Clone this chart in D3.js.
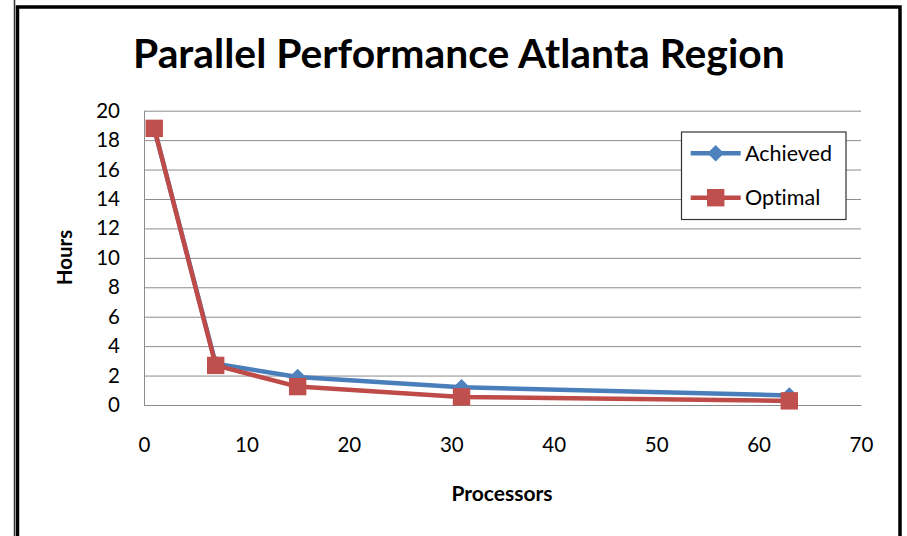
<!DOCTYPE html>
<html>
<head>
<meta charset="utf-8">
<script src="https://cdn.jsdelivr.net/npm/d3@7"></script>
<style>
  html, body { margin: 0; padding: 0; background: #fff; }
  svg { display: block; font-family: Lato, "Open Sans", sans-serif; }
  svg text { font-variant-ligatures: none; font-feature-settings: "liga" 0, "clig" 0, "dlig" 0; }
</style>
</head>
<body>
<div id="chart"></div>
<script>
// Datos
const processors = [1, 7, 15, 31, 63];
const achieved = [18.8, 2.8, 1.9, 1.2, 0.65];
const optimal = [18.8, 2.69, 1.25, 0.55, 0.28];
const xTicks = [0, 10, 20, 30, 40, 50, 60, 70];
const yTicks = [0, 2, 4, 6, 8, 10, 12, 14, 16, 18, 20];
const seriesNames = ["Achieved", "Optimal"];

const W = 907, H = 536;
const plot = { left: 144, top: 110.7, right: 861, bottom: 405 };

const svg = d3.select("#chart").append("svg")
  .attr("width", W)
  .attr("height", H);

// Marco exterior
svg.append("line")
  .attr("x1", 14.5).attr("x2", 14.5).attr("y1", 0).attr("y2", H)
  .attr("stroke", "#333").attr("stroke-width", 1.5);
svg.append("path")
  .attr("d", `M17.5,${H + 5} L17.5,7 L900,7 L900,${H + 5}`)
  .attr("fill", "none").attr("stroke", "#000").attr("stroke-width", 3.5);

const x = d3.scaleLinear().domain([0, 70]).range([plot.left, plot.right]);
const y = d3.scaleLinear().domain([0, 20]).range([plot.bottom, plot.top]);

// Eje Y con rejilla
const yAxis = svg.append("g")
  .attr("transform", `translate(${plot.left},0)`)
  .call(d3.axisLeft(y).tickValues(yTicks).tickSize(-(plot.right - plot.left)).tickSizeOuter(0).tickPadding(24));
yAxis.select(".domain").attr("stroke", "#8c8c8c");
yAxis.selectAll(".tick line").attr("stroke", "#8c8c8c");
yAxis.selectAll(".tick text")
  .attr("fill", "#000")
  .style("font-family", "Lato")
  .style("font-size", "20.5px");

// Eje X
const xAxis = svg.append("g")
  .attr("transform", `translate(0,${plot.bottom})`)
  .call(d3.axisBottom(x).tickValues(xTicks).tickSize(0).tickPadding(32.5));
xAxis.select(".domain").attr("stroke", "#8c8c8c");
xAxis.selectAll(".tick text")
  .attr("fill", "#000")
  .style("font-family", "Lato")
  .style("font-size", "20.5px");

// Título
const title = svg.append("text")
  .attr("x", 133)
  .attr("y", 67.7)
  .attr("fill", "#000")
  .style("font-weight", "bold")
  .style("font-size", "36px")
  .text("Parallel Performance Atlanta Region");
const tw = title.node().getComputedTextLength();
title.style("font-size", (36 * 652 / tw) + "px");

// Etiquetas de ejes
svg.append("text")
  .attr("transform", "translate(71.7,257.5) rotate(-90)")
  .attr("text-anchor", "middle")
  .attr("fill", "#000")
  .style("font-weight", "bold")
  .style("font-size", "20.5px")
  .text("Hours");

svg.append("text")
  .attr("x", 502)
  .attr("y", 500.7)
  .attr("text-anchor", "middle")
  .attr("fill", "#000")
  .style("font-weight", "bold")
  .style("font-size", "21px")
  .text("Processors");

// Series
const colors = {
  Achieved: { line: "#4A7EBB", marker: "#4F81BD" },
  Optimal: { line: "#BE4B48", marker: "#C0504D" }
};
const diamond = s => `M0,${-s} L${s},0 L0,${s} L${-s},0Z`;
const square = s => `M${-s},${-s} H${s} V${s} H${-s}Z`;
const shapes = { Achieved: diamond(8.3), Optimal: square(8.7) };

const line = d3.line().x(d => x(d[0])).y(d => y(d[1]));

[achieved, optimal].forEach((vals, i) => {
  const name = seriesNames[i];
  const pts = processors.map((p, j) => [p, vals[j]]);
  svg.append("path")
    .datum(pts)
    .attr("d", line)
    .attr("fill", "none")
    .attr("stroke", colors[name].line)
    .attr("stroke-width", 4.5)
    .attr("stroke-linejoin", "round");
  svg.selectAll(null)
    .data(pts)
    .enter().append("path")
    .attr("transform", d => `translate(${x(d[0])},${y(d[1])})`)
    .attr("d", shapes[name])
    .attr("fill", colors[name].marker);
});

// Leyenda
const legend = svg.append("g");
legend.append("rect")
  .attr("x", 681.5).attr("y", 132)
  .attr("width", 164.5).attr("height", 87.5)
  .attr("fill", "#fff")
  .attr("stroke", "#333")
  .attr("stroke-width", 1.2);

seriesNames.forEach((name, i) => {
  const ly = 153.3 + i * 44.4;
  legend.append("line")
    .attr("x1", 690.7).attr("x2", 740.7)
    .attr("y1", ly).attr("y2", ly)
    .attr("stroke", colors[name].line)
    .attr("stroke-width", 4.5);
  legend.append("path")
    .attr("transform", `translate(715.7,${ly})`)
    .attr("d", shapes[name])
    .attr("fill", colors[name].marker);
  legend.append("text")
    .attr("x", 745)
    .attr("y", ly)
    .attr("dy", "0.35em")
    .attr("fill", "#000")
    .style("font-size", "21.5px")
    .text(name);
});
</script>
</body>
</html>
